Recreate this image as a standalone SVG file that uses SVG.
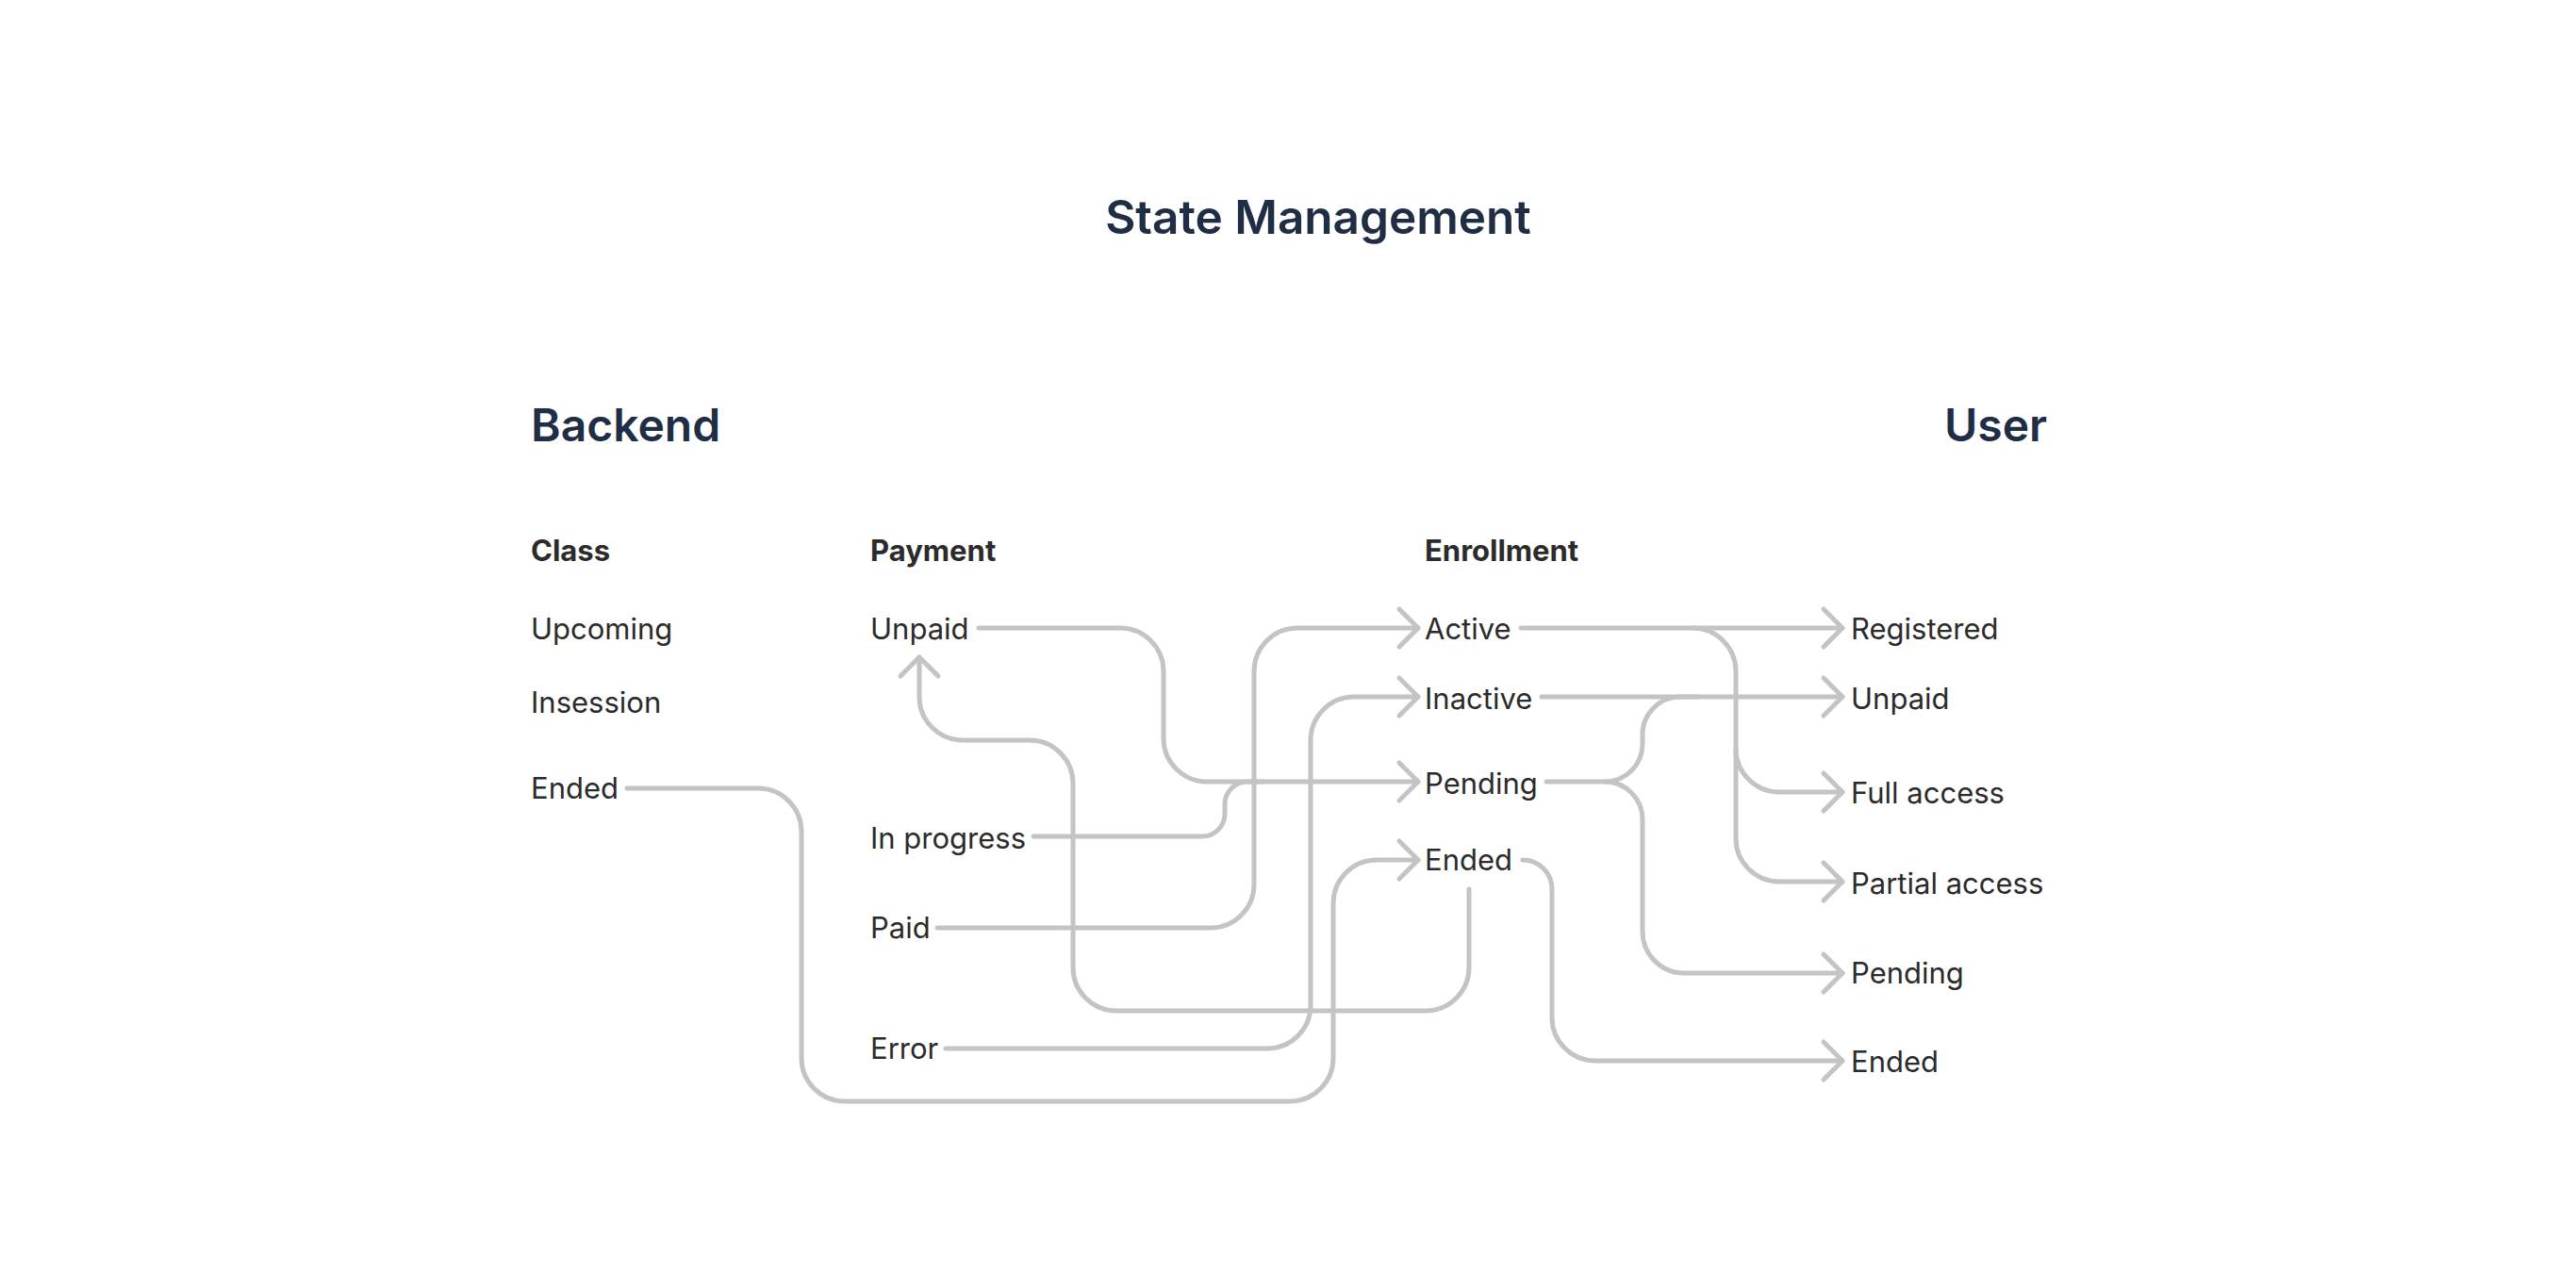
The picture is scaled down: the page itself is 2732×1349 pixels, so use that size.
<svg xmlns="http://www.w3.org/2000/svg" width="2732" height="1349" viewBox="0 0 2732 1349">
<style>
.title{font-family:Inter,"Noto Sans",sans-serif;font-weight:600;font-size:48px;fill:#1f2d45}
.big{font-size:49.5px}
.head{font-family:Inter,"Noto Sans",sans-serif;font-weight:700;font-size:31px;fill:#2b2b2b}
.lbl{font-family:Inter,"Noto Sans",sans-serif;font-weight:400;font-size:31px;fill:#2b2b2b}
.c{fill:none;stroke:#c4c4c4;stroke-width:5;stroke-linecap:round;stroke-linejoin:round}
.ah{fill:none;stroke:#c4c4c4;stroke-width:5;stroke-linecap:round;stroke-linejoin:round}
</style>
<defs>
<marker id="arr" viewBox="-25 -25 30 50" markerWidth="30" markerHeight="50" refX="0" refY="0" orient="auto" markerUnits="userSpaceOnUse" overflow="visible">
<path class="ah" d="M-20,-20 L0,0 L-20,20"/>
</marker>
</defs>
<rect width="2732" height="1349" fill="#ffffff"/>

<g id="titles">
<text class="title big" x="1398" y="248" text-anchor="middle">State Management</text>
<text class="title" x="563" y="468">Backend</text>
<text class="title" x="2062" y="468">User</text>
</g>

<g id="headers">
<text class="head" x="563" y="595">Class</text>
<text class="head" x="923" y="595">Payment</text>
<text class="head" x="1511" y="595">Enrollment</text>
</g>

<g id="class-upcoming"><text class="lbl" x="563" y="678">Upcoming</text></g>
<g id="class-insession"><text class="lbl" x="563" y="756">Insession</text></g>
<g id="class-ended"><text class="lbl" x="563" y="847">Ended</text></g>

<g id="payment-unpaid"><text class="lbl" x="923" y="678">Unpaid</text></g>
<g id="payment-inprogress"><text class="lbl" x="923" y="900">In progress</text></g>
<g id="payment-paid"><text class="lbl" x="923" y="995">Paid</text></g>
<g id="payment-error"><text class="lbl" x="923" y="1123">Error</text></g>

<g id="enroll-active"><text class="lbl" x="1511" y="678">Active</text></g>
<g id="enroll-inactive"><text class="lbl" x="1511" y="752">Inactive</text></g>
<g id="enroll-pending"><text class="lbl" x="1511" y="842">Pending</text></g>
<g id="enroll-ended"><text class="lbl" x="1511" y="923">Ended</text></g>

<g id="user-registered"><text class="lbl" x="1963" y="678">Registered</text></g>
<g id="user-unpaid"><text class="lbl" x="1963" y="752">Unpaid</text></g>
<g id="user-fullaccess"><text class="lbl" x="1963" y="852">Full access</text></g>
<g id="user-partialaccess"><text class="lbl" x="1963" y="948">Partial access</text></g>
<g id="user-pending"><text class="lbl" x="1963" y="1043">Pending</text></g>
<g id="user-ended"><text class="lbl" x="1963" y="1137">Ended</text></g>

<g id="connectors">
<!-- Payment Unpaid -> Enrollment Pending -->
<path class="c" marker-end="url(#arr)" d="M1038,666 H1188 A46,46 0 0 1 1234,712 V783 A46,46 0 0 0 1280,829 H1504"/>
<!-- Payment In progress -> Enrollment Pending (merge) -->
<path class="c" d="M1096,887 H1275 A24,24 0 0 0 1299,863 V853 A24,24 0 0 1 1323,829 H1340"/>
<!-- Payment Paid -> Enrollment Active -->
<path class="c" marker-end="url(#arr)" d="M994,984 H1284 A46,46 0 0 0 1330,938 V712 A46,46 0 0 1 1376,666 H1504"/>
<!-- Payment Error -> Enrollment Inactive -->
<path class="c" marker-end="url(#arr)" d="M1003,1112 H1344 A46,46 0 0 0 1390,1066 V785 A46,46 0 0 1 1436,739 H1504"/>
<!-- Class Ended -> Enrollment Ended -->
<path class="c" marker-end="url(#arr)" d="M665,836 H804 A46,46 0 0 1 850,882 V1122 A46,46 0 0 0 896,1168 H1368 A46,46 0 0 0 1414,1122 V958 A46,46 0 0 1 1460,912 H1504"/>
<!-- Enrollment Ended -> Payment Unpaid -->
<path class="c" marker-end="url(#arr)" d="M1558,943 V1026 A46,46 0 0 1 1512,1072 H1184 A46,46 0 0 1 1138,1026 V831 A46,46 0 0 0 1092,785 H1021 A46,46 0 0 1 975,739 V697"/>
<!-- Enrollment Ended -> User Ended -->
<path class="c" marker-end="url(#arr)" d="M1615,912 A31,31 0 0 1 1646,943 V1079 A46,46 0 0 0 1692,1125 H1954"/>
<!-- Enrollment Active -> User Registered -->
<path class="c" marker-end="url(#arr)" d="M1613,666 H1954"/>
<!-- Enrollment Active -> User Partial access -->
<path class="c" marker-end="url(#arr)" d="M1795,666 A46,46 0 0 1 1841,712 V889 A46,46 0 0 0 1887,935 H1954"/>
<!-- Enrollment Active -> User Full access -->
<path class="c" marker-end="url(#arr)" d="M1841,794 A46,46 0 0 0 1887,840 H1954"/>
<!-- Enrollment Inactive -> User Unpaid -->
<path class="c" marker-end="url(#arr)" d="M1635,739 H1954"/>
<!-- Enrollment Pending -> User Unpaid -->
<path class="c" d="M1640,829 H1702 A40,40 0 0 0 1742,789 V779 A40,40 0 0 1 1782,739 H1800"/>
<!-- Enrollment Pending -> User Pending -->
<path class="c" marker-end="url(#arr)" d="M1702,829 A40,40 0 0 1 1742,869 V988 A44,44 0 0 0 1786,1032 H1954"/>
</g>
</svg>
